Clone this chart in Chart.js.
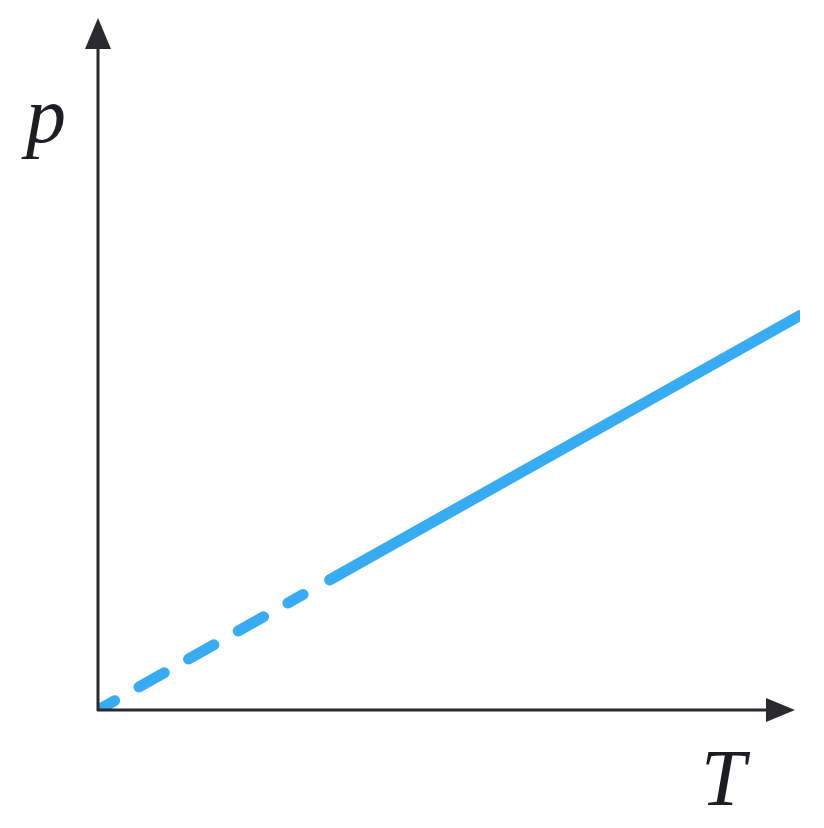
<!DOCTYPE html>
<html>
<head>
<meta charset="utf-8">
<script src="https://cdn.jsdelivr.net/npm/chart.js@4"></script>
<style>
  html, body { margin: 0; padding: 0; background: #fff; }
  #wrap { width: 824px; height: 828px; }
</style>
</head>
<body>
<div id="wrap"><canvas id="ptChart"></canvas></div>
<script>
// p-T diagram (isochoric line through origin)

// dashed part near the origin
const dashedT = [0, 2.92];
const dashedP = [0, 1.67];
// solid part
const solidT = [3.3, 10];
const solidP = [1.88, 5.7];

const axisLabels = { x: "T", y: "p" };

const toPoints = (xs, ys) => xs.map((x, i) => ({ x: x, y: ys[i] }));

// axes with arrow heads + axis letters
const arrowAxes = {
    id: "arrowAxes",
    afterDraw(chart) {
        const ctx = chart.ctx;
        const area = chart.chartArea;
        const x0 = chart.scales.x.getPixelForValue(0);
        const y0 = chart.scales.y.getPixelForValue(0);
        const tipX = area.right - 5;
        const tipY = area.top;
        ctx.save();
        ctx.strokeStyle = "#2b2a2e";
        ctx.fillStyle = "#2b2a2e";
        ctx.lineWidth = 3;
        ctx.beginPath();
        ctx.moveTo(x0, y0 + 1);
        ctx.lineTo(x0, tipY + 20);
        ctx.moveTo(x0 - 1, y0);
        ctx.lineTo(tipX - 20, y0);
        ctx.stroke();

        // y arrow
        ctx.beginPath();
        ctx.moveTo(x0, tipY);
        ctx.lineTo(x0 - 13, tipY + 31);
        ctx.lineTo(x0 + 13, tipY + 31);
        ctx.closePath();
        ctx.fill();

        // x arrow
        ctx.beginPath();
        ctx.moveTo(tipX, y0);
        ctx.lineTo(tipX - 29, y0 - 12);
        ctx.lineTo(tipX - 29, y0 + 12);
        ctx.closePath();
        ctx.fill();

        ctx.font = "italic 80px 'Liberation Serif', 'DejaVu Serif', serif";
        ctx.textBaseline = "alphabetic";
        ctx.fillStyle = "#1e1d21";
        ctx.fillText(axisLabels.y, 26, 142);
        ctx.fillText(axisLabels.x, 701, 805);
        ctx.restore();
    },
};

new Chart(document.getElementById("ptChart"), {
    type: "scatter",
    data: {
        datasets: [
            {
                label: "dashed",
                data: toPoints(dashedT, dashedP),
                showLine: true,
                borderColor: "#38acf2",
                borderWidth: 11,
                borderCapStyle: "round",
                borderDash: [29, 28],
                borderDashOffset: 10,
                pointRadius: 0,
            },
            {
                label: "solid",
                data: toPoints(solidT, solidP),
                showLine: true,
                borderColor: "#38acf2",
                borderWidth: 11,
                borderCapStyle: "round",
                pointRadius: 0,
            },
        ],
    },
    options: {
        responsive: true,
        maintainAspectRatio: false,
        animation: false,
        layout: { padding: { left: 98, right: 24, top: 18, bottom: 118 } },
        plugins: { legend: { display: false }, tooltip: { enabled: false } },
        scales: {
            x: { type: "linear", min: 0, max: 10, display: false },
            y: { type: "linear", min: 0, max: 10, display: false },
        },
    },
    plugins: [arrowAxes],
});
</script>
</body>
</html>
